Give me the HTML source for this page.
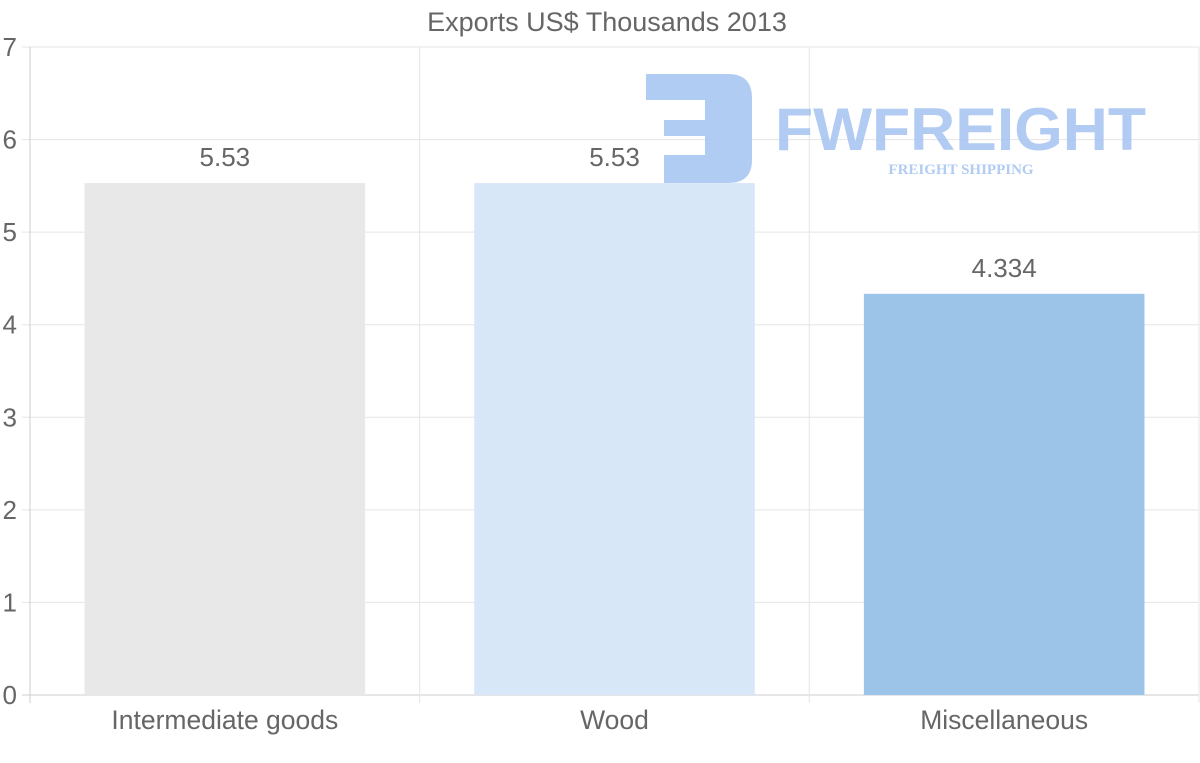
<!DOCTYPE html>
<html><head><meta charset="utf-8"><style>
html,body{margin:0;padding:0;background:#fff;}
svg{display:block;font-family:"Liberation Sans",sans-serif;}
</style></head><body>
<svg id="chart" width="1200" height="763">
<text x="607" y="31" text-anchor="middle" font-size="27" fill="#666">Exports US$ Thousands 2013</text>
<g id="grid"></g>
<g id="bars"></g>
<g id="labels"></g>
<g opacity="0.9">
<path d="M646 74 H728 Q752 74 752 98 V160 Q752 183 728 183 H664 V155 H705 V136 H664 V120 H705 V100 H646 Z" fill="#a9c6f2"/>
<text x="775" y="150" font-size="60" font-weight="bold" fill="#a9c6f2" textLength="371" lengthAdjust="spacingAndGlyphs">FWFREIGHT</text>
<text x="961" y="174" text-anchor="middle" font-family="Liberation Serif,serif" font-weight="bold" font-size="15" fill="#a9c6f2">FREIGHT SHIPPING</text>
</g>
</svg>
<script>
const categories=["Intermediate goods","Wood","Miscellaneous"];
const values=[5.53,5.53,4.334];
const valueLabels=["5.53","5.53","4.334"];
const colors=["#e8e8e8","#d8e7f8","#9cc4e8"];
const yTicks=[0,1,2,3,4,5,6,7];
const NS="http://www.w3.org/2000/svg";
const plotLeft=30,plotRight=1199,plotTop=47,plotBottom=695,yMax=7;
const yPos=v=>plotBottom-(v/yMax)*(plotBottom-plotTop);
const band=(plotRight-plotLeft)/categories.length;
const xPos=i=>plotLeft+band*i;
function mk(tag,attrs,parent,text){const e=document.createElementNS(NS,tag);for(const k in attrs)e.setAttribute(k,attrs[k]);if(text!==undefined)e.textContent=text;document.getElementById(parent).appendChild(e);return e;}
yTicks.forEach(t=>{
 const l=mk('line',{x1:22,x2:plotRight,y1:yPos(t),y2:yPos(t),stroke:t===0?'#ccc':'#e5e5e5','stroke-width':1},'grid');
 
 
 const tx=mk('text',{x:17,y:yPos(t)+9,'text-anchor':'end','font-size':26,fill:'#666'},'labels',String(t));
 
 
});
for(let i=0;i<=categories.length;i++){
 const l=mk('line',{x1:xPos(i),x2:xPos(i),y1:plotTop,y2:plotBottom+8,stroke:i===0?'#ccc':'#e5e5e5','stroke-width':1},'grid');
 
 
}
categories.forEach((c,i)=>{
 const bw=band*0.72, bx=xPos(i)+(band-bw)/2;
 const r=mk('rect',{x:bx,y:yPos(values[i]),width:bw,height:plotBottom-yPos(values[i]),fill:colors[i]},'bars');
 
 
 const v=mk('text',{x:xPos(i)+band/2,y:yPos(values[i])-17,'text-anchor':'middle','font-size':26,fill:'#666'},'labels',valueLabels[i]);
 
 
 const cl=mk('text',{x:xPos(i)+band/2,y:729,'text-anchor':'middle','font-size':26.5,fill:'#666'},'labels',c);
 
 
});
</script>
</body></html>
